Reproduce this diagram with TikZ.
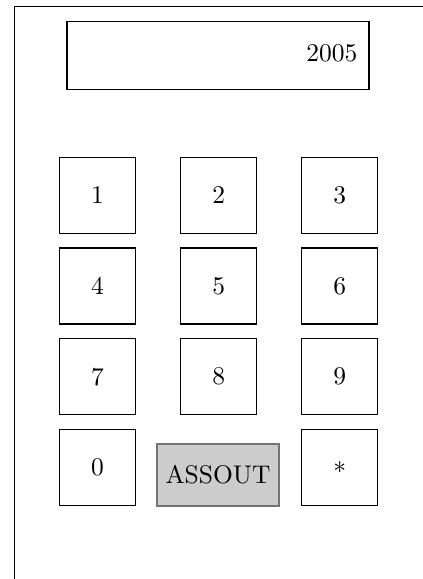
\documentclass[tikz,border=0pt]{standalone}
\newdimen\px \px=0.392pt
\begin{document}
\begin{tikzpicture}[x=0.392pt,y=-0.392pt,
  keybox/.style={draw, line width=0.5pt, minimum width=76\px, minimum height=76\px, inner sep=0pt},
  dispbox/.style={draw, line width=0.5pt, minimum width=302\px, minimum height=68\px, inner sep=0pt},
  activebox/.style={draw=black!55, fill=black!20, line width=0.5pt, minimum width=122\px, minimum height=62\px, inner sep=0pt},
  framebox/.style={line width=0.55pt}]
\useasboundingbox (0,0) rectangle (422,579);
\coordinate (ftr) at (430,6.5);
\coordinate (ftl) at (14.5,6.5);
\coordinate (fbl) at (14.5,590);
\draw[framebox] (ftr) -- (ftl) -- (fbl);
\node[dispbox] (disp) at (218,55.3) {};
\node[anchor=base east, inner sep=0pt] (dtext) at (358,61.5) {2005};
\node[keybox] (k1) at (97.5,195.3) {1};
\node[keybox] (k2) at (218.7,195.3) {2};
\node[keybox] (k3) at (339.7,195.3) {3};
\node[keybox] (k4) at (97.5,286) {4};
\node[keybox] (k5) at (218.7,286) {5};
\node[keybox] (k6) at (339.7,286) {6};
\node[keybox] (k7) at (97.5,376.7) {7};
\node[keybox] (k8) at (218.7,376.7) {8};
\node[keybox] (k9) at (339.7,376.7) {9};
\node[keybox] (k0) at (97.5,467.5) {0};
\node[activebox] (kout) at (218,475) {ASSOUT};
\node[keybox] (kstar) at (339.7,467.5) {$*$};
\end{tikzpicture}
\end{document}
